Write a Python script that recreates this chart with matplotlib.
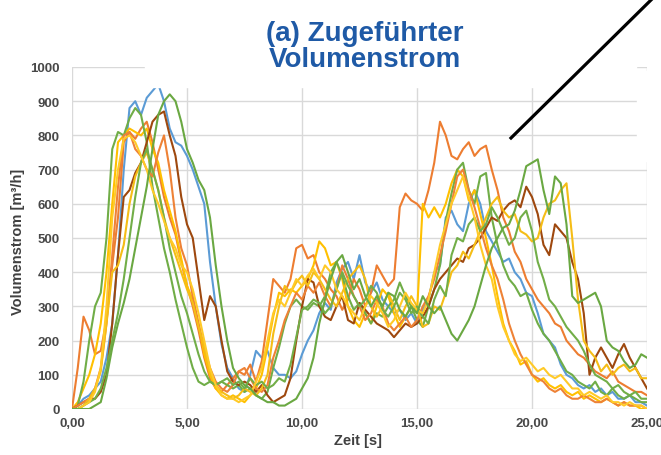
import matplotlib
matplotlib.use("Agg")
import matplotlib.pyplot as plt
from matplotlib.patches import Rectangle
from matplotlib.lines import Line2D

plt.rcParams['font.family'] = ['Liberation Sans', 'DejaVu Sans']

# time axis: 0 .. 25 s in 0.25 s steps
zeit = [i * 0.25 for i in range(101)]

# Volumenstrom [m3/h], every 0.25 s
blau = [0, 10, 30, 40, 60, 80, 150, 250, 450, 700, 880, 900, 860, 910, 930, 950, 900, 820, 780, 770,
        740, 700, 650, 600, 430, 300, 190, 120, 90, 60, 50, 100, 170, 150, 170, 120, 100, 100, 90, 110,
        160, 200, 230, 280, 310, 290, 370, 410, 430, 380, 450, 370, 340, 370, 320, 300, 280, 290, 260, 280,
        250, 290, 320, 400, 420, 560, 580, 540, 520, 600, 640, 600, 520, 490, 460, 430, 440, 400, 380, 340,
        330, 280, 220, 200, 180, 130, 100, 90, 70, 60, 70, 50, 60, 40, 50, 30, 30, 40, 20, 20,
        10]
orange_a = [0, 120, 270, 230, 160, 170, 260, 420, 560, 780, 810, 790, 820, 840, 780, 700, 620, 560, 510, 430,
            360, 300, 230, 150, 90, 60, 50, 70, 90, 110, 100, 130, 80, 140, 260, 380, 360, 340, 380, 470,
            480, 440, 450, 400, 380, 350, 330, 290, 320, 380, 350, 300, 340, 420, 390, 360, 380, 590, 630, 610,
            600, 580, 640, 720, 840, 800, 740, 730, 760, 780, 740, 760, 770, 700, 640, 560, 520, 460, 430, 380,
            350, 320, 300, 280, 250, 240, 200, 180, 160, 150, 130, 110, 100, 90, 110, 80, 70, 60, 50, 50,
            40]
gold_a = [0, 20, 60, 100, 160, 250, 400, 600, 780, 800, 820, 810, 800, 820, 760, 720, 640, 580, 520, 440,
          360, 320, 250, 160, 100, 60, 40, 30, 40, 30, 20, 40, 60, 100, 180, 270, 340, 330, 350, 340,
          360, 380, 420, 490, 470, 420, 430, 380, 300, 260, 240, 280, 250, 300, 350, 330, 280, 240, 270, 300,
          280, 600, 560, 590, 560, 600, 660, 700, 680, 610, 640, 570, 500, 420, 330, 250, 200, 170, 130, 140,
          100, 80, 90, 70, 60, 70, 50, 40, 50, 30, 40, 30, 20, 30, 20, 10, 20, 10, 10, 0,
          0]
gruen_a = [0, 10, 80, 200, 300, 340, 500, 760, 810, 800, 850, 880, 860, 780, 650, 560, 470, 400, 320, 250,
           180, 120, 80, 70, 80, 70, 80, 70, 60, 70, 50, 60, 40, 30, 50, 120, 180, 250, 300, 320,
           300, 290, 310, 300, 330, 400, 430, 390, 330, 290, 310, 280, 250, 280, 270, 300, 320, 370, 330, 300,
           260, 240, 300, 350, 420, 550, 630, 700, 720, 640, 600, 680, 690, 560, 480, 420, 380, 360, 330, 340,
           290, 250, 220, 200, 170, 140, 110, 100, 80, 70, 60, 80, 50, 40, 60, 40, 30, 40, 30, 20,
           20]
braun = [0, 10, 20, 30, 30, 50, 100, 250, 450, 620, 640, 690, 720, 780, 840, 860, 870, 800, 740, 620,
         540, 500, 380, 260, 330, 300, 200, 110, 80, 70, 80, 70, 50, 70, 40, 20, 30, 40, 90, 200,
         300, 380, 370, 300, 270, 260, 300, 330, 260, 250, 310, 290, 270, 250, 240, 230, 210, 230, 250, 240,
         250, 270, 300, 350, 380, 400, 420, 440, 430, 470, 480, 500, 530, 560, 550, 580, 600, 610, 590, 650,
         620, 570, 480, 450, 540, 520, 500, 430, 380, 280, 100, 150, 180, 150, 120, 160, 190, 150, 120, 90,
         60]
orange_b = [0, 10, 20, 30, 60, 120, 250, 450, 650, 800, 810, 760, 740, 700, 680, 750, 800, 700, 560, 470,
            420, 330, 250, 180, 120, 80, 60, 50, 70, 110, 120, 90, 60, 50, 70, 150, 200, 260, 300, 340,
            320, 360, 340, 370, 330, 300, 350, 420, 380, 330, 300, 260, 280, 320, 300, 250, 230, 250, 270, 240,
            260, 300, 330, 380, 450, 520, 600, 680, 700, 640, 590, 530, 470, 420, 380, 320, 250, 200, 160, 130,
            100, 90, 80, 60, 50, 60, 40, 30, 30, 40, 30, 20, 20, 30, 20, 10, 20, 10, 10, 10,
            0]
gold_b = [0, 0, 10, 30, 60, 110, 250, 400, 420, 480, 600, 680, 720, 750, 700, 640, 560, 500, 450, 400,
          350, 310, 240, 180, 110, 70, 50, 40, 30, 40, 60, 50, 40, 60, 100, 220, 300, 360, 340, 370,
          390, 360, 400, 380, 350, 320, 300, 340, 380, 400, 420, 380, 300, 270, 300, 340, 300, 260, 300, 330,
          300, 240, 250, 300, 290, 340, 400, 420, 460, 440, 480, 520, 560, 600, 620, 580, 560, 570, 520, 510,
          490, 500, 560, 600, 610, 640, 660, 500, 320, 200, 170, 150, 110, 130, 100, 120, 130, 110, 120, 90,
          90]
gruen_c = [0, 0, 10, 20, 30, 60, 120, 200, 280, 380, 500, 620, 720, 760, 700, 640, 560, 470, 400, 330,
           280, 220, 160, 110, 80, 70, 80, 90, 70, 80, 60, 90, 70, 80, 60, 70, 90, 80, 130, 210,
           290, 300, 320, 310, 280, 300, 350, 400, 360, 330, 300, 320, 360, 340, 290, 270, 300, 340, 320, 280,
           300, 270, 250, 320, 360, 330, 450, 500, 490, 540, 560, 520, 540, 590, 560, 520, 480, 500, 560, 580,
           520, 430, 380, 320, 300, 270, 240, 220, 200, 170, 130, 100, 90, 80, 60, 70, 50, 40, 50, 30,
           30]
gelb_c = [0, 0, 10, 20, 50, 120, 300, 560, 700, 790, 800, 780, 740, 700, 640, 600, 550, 500, 470, 420,
          400, 350, 280, 200, 120, 70, 40, 30, 30, 20, 30, 40, 80, 120, 200, 280, 320, 300, 340, 380,
          360, 390, 410, 380, 420, 400, 350, 330, 300, 280, 260, 300, 330, 310, 280, 240, 260, 300, 340, 310,
          290, 280, 320, 400, 480, 540, 600, 640, 680, 620, 560, 480, 420, 380, 300, 240, 200, 160, 140, 150,
          130, 110, 120, 100, 90, 100, 80, 60, 60, 40, 50, 40, 30, 40, 20, 20, 10, 20, 10, 10,
          0]
gruen_b = [0, 0, 0, 0, 10, 20, 90, 180, 250, 310, 380, 470, 560, 650, 760, 860, 900, 920, 900, 840,
           760, 720, 670, 640, 560, 420, 300, 200, 120, 90, 70, 60, 40, 30, 20, 20, 10, 10, 20, 30,
           60, 90, 150, 250, 320, 380, 430, 450, 400, 350, 380, 330, 300, 330, 300, 340, 330, 290, 270, 300,
           280, 330, 300, 280, 300, 260, 220, 200, 230, 260, 300, 360, 420, 470, 500, 530, 540, 580, 640, 710,
           720, 730, 640, 570, 680, 660, 540, 330, 310, 320, 330, 340, 300, 200, 180, 170, 140, 120, 130, 160,
           150]

serien = [blau, orange_a, gold_a, gruen_a, braun, orange_b, gold_b, gruen_c, gelb_c, gruen_b]
farben = ['#5B9BD5', '#ED7D31', '#FFC000', '#70AD47', '#9E480E',
          '#EE8236', '#F5BD16', '#72AE48', '#FFCA28', '#6AA842']

x_ticks = [0, 5, 10, 15, 20, 25]
x_labels = ['0,00', '5,00', '10,00', '15,00', '20,00', '25,00']
y_ticks = list(range(0, 1001, 100))

fig = plt.figure(figsize=(6.61, 4.56), dpi=100)
ax = fig.add_axes([72 / 661, 46 / 456, 575 / 661, 342 / 456])

for werte, farbe in zip(serien, farben):
    ax.plot(zeit, werte, color=farbe, lw=1.5)

ax.set_xlim(0, 25)
ax.set_ylim(0, 1000)
ax.set_xticks(x_ticks)
ax.set_xticklabels(x_labels)
ax.set_yticks(y_ticks)
ax.grid(True, color='#D9D9D9', lw=1.0)
ax.set_axisbelow(True)
for s in ax.spines.values():
    s.set_visible(False)
ax.tick_params(length=0, labelsize=9.5, labelcolor='#484848')
ax.tick_params(axis='y', pad=9)
ax.tick_params(axis='x', pad=6)
for lab in ax.get_xticklabels() + ax.get_yticklabels():
    lab.set_fontweight('bold')

ax.set_xlabel('Zeit [s]', fontsize=10.5, fontweight='bold', color='#404040', va='center')
ax.xaxis.set_label_coords(0.497, -0.09)
ax.set_ylabel('Volumenstrom [m³/h]', fontsize=10.5, fontweight='bold', color='#404040', va='center')
ax.yaxis.set_label_coords(-0.094, 0.491)

# white boxes from the pasted title panel
W, H = 661, 456
fig.patches.append(Rectangle((145 / W, (H - 88) / H), (636 - 145) / W, 88 / H,
                             transform=fig.transFigure, color='white', zorder=1))
fig.patches.append(Rectangle((637 / W, (H - 162) / H), 24 / W, 90 / H,
                             transform=fig.transFigure, color='white', zorder=1))

fig.text(365 / W, (H - 41) / H, '(a) Zugeführter', ha='center', va='baseline',
         fontsize=20, fontweight='bold', color='#1F5AA6', zorder=3)
fig.text(365 / W, (H - 67) / H, 'Volumenstrom', ha='center', va='baseline',
         fontsize=20, fontweight='bold', color='#1F5AA6', zorder=3)

# pointer line
fig.lines.append(Line2D([511 / W, 652 / W], [(H - 139) / H, 1.0], transform=fig.transFigure,
                        color='black', lw=2.3, zorder=2))

fig.savefig('out.png', dpi=100)
